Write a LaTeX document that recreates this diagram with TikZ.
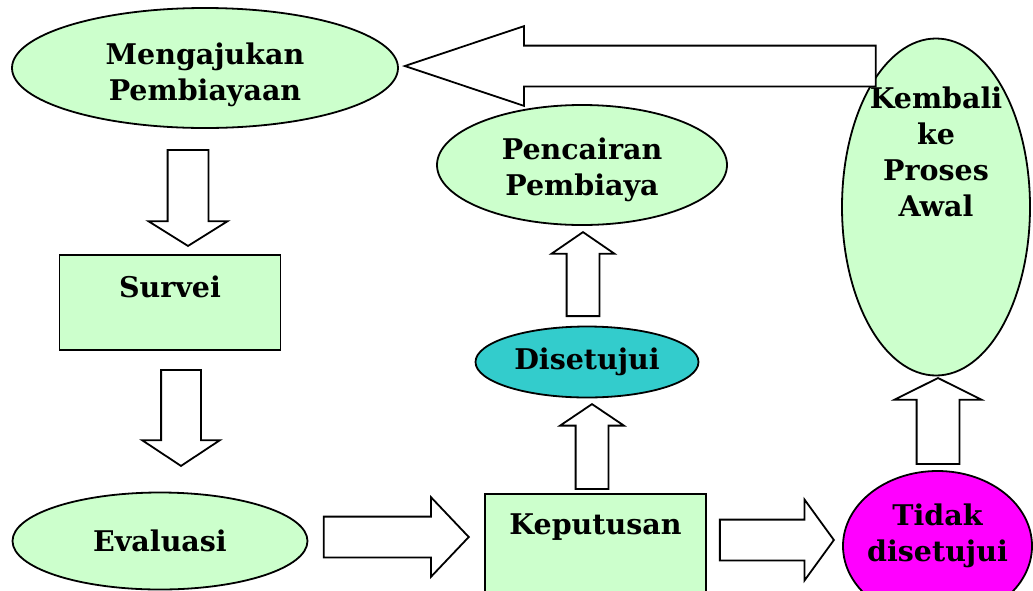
\documentclass[tikz,border=0pt]{standalone}
\usepackage{fontspec}
\setmainfont{DejaVu Serif}
\usetikzlibrary{shapes.geometric,shapes.arrows}

\definecolor{mint}{HTML}{CCFFCC}
\definecolor{tosca}{HTML}{33CCCC}
\definecolor{fuchsia}{HTML}{FF00FF}

\begin{document}
\begin{tikzpicture}[x=1pt, y=-1pt, line width=1.8pt,
	font=\fontsize{28.5}{36}\selectfont\bfseries,
	oval/.style = {draw, ellipse, fill=mint, inner sep=0pt, align=center},
	box/.style = {draw, rectangle, fill=mint, inner sep=0pt, minimum width=221pt, text height=20pt},
	blok/.style = {draw, fill=white, single arrow, inner sep=0pt, minimum width=0pt,
		text width=#1, text height=#1, text depth=0pt, anchor=tip}]

		\useasboundingbox (0,0) rectangle (1033,590);
		\clip (0,0) rectangle (1033,590);

		\node[oval, minimum width=386pt, minimum height=120pt,
			label={[align=center, yshift=-7pt]center:Mengajukan\\Pembiayaan}] (ajukan) at (205,68) {};
		\node[box, minimum height=95pt, text depth=31pt] (survei) at (170,302.5) {Survei};
		\node[oval, minimum width=295pt, minimum height=97pt] (evaluasi) at (160,541) {Evaluasi};
		\node[box, minimum height=110pt, text depth=50pt] (putusan) at (595.5,549) {Keputusan};
		\node[oval, fill=tosca, minimum width=223pt, minimum height=71pt] (setuju) at (587,362) {Disetujui};
		\node[oval, minimum width=290pt, minimum height=120pt,
			label={[align=center, yshift=-5pt]center:Pencairan\\Pembiaya}] (cair) at (582,165) {};
		\node[oval, fill=fuchsia, minimum width=189pt, minimum height=150pt,
			label={[align=center, yshift=10pt]center:Tidak\\disetujui}] (tolak) at (937.5,546) {};
		\node[oval, minimum width=188pt, minimum height=337pt,
			label={[align=center, yshift=55pt]center:Kembali\\ke\\Proses\\Awal}] (kembali) at (936,207) {};

		% block arrows
		\node[blok=39pt, shape border rotate=270, minimum height=96pt, single arrow head extend=19pt, single arrow tip angle=116] (a1) at (188,247) {};
		\node[blok=38pt, shape border rotate=270, minimum height=96pt, single arrow head extend=19pt, single arrow tip angle=113] (a2) at (181,467) {};
		\node[blok=39pt, minimum height=145pt, single arrow head extend=19.5pt, single arrow tip angle=93] (a3) at (470,537) {};
		\node[blok=31pt, shape border rotate=90, minimum height=85pt, single arrow head extend=15.5pt, single arrow tip angle=112] (a4) at (592,403) {};
		\node[blok=31pt, shape border rotate=90, minimum height=84pt, single arrow head extend=15pt, single arrow tip angle=111] (a5) at (583,231) {};
		\node[blok=39pt, minimum height=114pt, single arrow head extend=20pt, single arrow tip angle=108] (a6) at (835,540) {};
		\node[blok=41pt, shape border rotate=90, minimum height=86pt, single arrow head extend=22pt, single arrow tip angle=127] (a7) at (938,377) {};
		\node[blok=39pt, shape border rotate=180, minimum height=471pt, single arrow head extend=19.5pt, single arrow tip angle=37] (a8) at (402,66) {};
	\end{tikzpicture}
\end{document}
